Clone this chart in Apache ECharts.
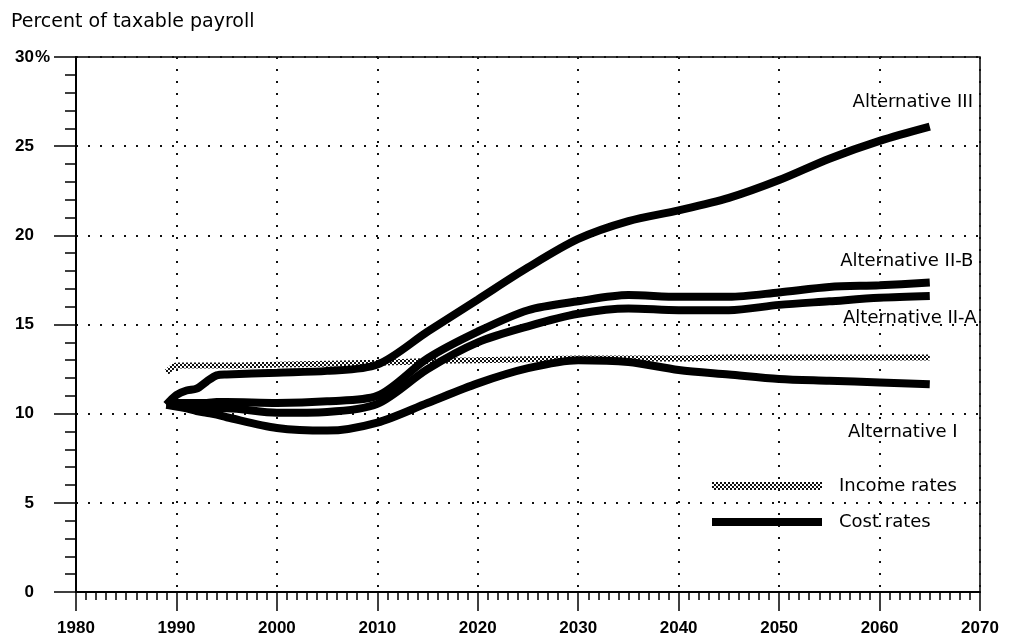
<!DOCTYPE html>
<html>
<head>
    <meta charset="utf-8">
    <title>Percent of taxable payroll</title>
    <script src="https://cdn.jsdelivr.net/npm/echarts@6/dist/echarts.min.js"></script>
    <style>
        html, body { margin: 0; padding: 0; background: #fff; }
        #chart1 { width: 1014px; height: 639px; }
    </style>
</head>
<body>
<div id="chart1"></div>
<script type="text/javascript">
    // years
    var years = [1989, 1990, 1991, 1992, 1993, 1994, 1995, 2000, 2005, 2010, 2015, 2020, 2025, 2030, 2035, 2040, 2045, 2050, 2055, 2060, 2065];
    var incomeRates = [12.3, 12.7, 12.7, 12.7, 12.7, 12.7, 12.7, 12.75, 12.8, 12.85, 12.95, 13.0, 13.05, 13.1, 13.1, 13.1, 13.15, 13.15, 13.15, 13.15, 13.15];
    var altI   = [10.5, 10.4, 10.3, 10.15, 10.05, 9.95, 9.8, 9.2, 9.05, 9.5, 10.6, 11.7, 12.55, 13.0, 12.9, 12.45, 12.2, 11.95, 11.85, 11.75, 11.65];
    var altIIA = [10.5, 10.5, 10.45, 10.4, 10.35, 10.3, 10.3, 10.05, 10.1, 10.55, 12.5, 14.0, 14.9, 15.6, 15.9, 15.8, 15.8, 16.1, 16.3, 16.5, 16.6];
    var altIIB = [10.5, 10.6, 10.6, 10.6, 10.6, 10.65, 10.65, 10.6, 10.7, 11.0, 13.1, 14.6, 15.8, 16.3, 16.65, 16.55, 16.55, 16.8, 17.1, 17.2, 17.35];
    var altIII = [10.5, 11.05, 11.3, 11.4, 11.8, 12.15, 12.2, 12.3, 12.4, 12.75, 14.6, 16.4, 18.2, 19.8, 20.8, 21.4, 22.1, 23.1, 24.3, 25.3, 26.1];
    var altNames = ['Alternative I', 'Alternative II-A', 'Alternative II-B', 'Alternative III'];
    var xTicks = {min: 1980, max: 2070, step: 10};
    var yTicks = {min: 0, max: 30, step: 5};

    function pairs(vals) {
        return years.map(function (y, i) { return [y, vals[i]]; });
    }

    // hatched look of the income line
    var pat = document.createElement('canvas');
    pat.width = 4; pat.height = 4;
    var pc = pat.getContext('2d');
    pc.fillStyle = '#fff'; pc.fillRect(0, 0, 4, 4);
    pc.fillStyle = '#111'; pc.fillRect(0, 0, 2, 2); pc.fillRect(2, 2, 2, 2);
    var hatch = {image: pat, repeat: 'repeat'};

    var font = 'DejaVu Sans';
    var tickFont = 'Liberation Sans';
    var dotted = {type: [2, 10], width: 2, color: '#111'};

    // label offsets from the line ends
    var labelOffsets = [[-27, 48], [-20, 22], [-23, -21], [-17, -24]];

    function costSeries(vals, k) {
        return {
            name: 'Cost rates',
            type: 'line',
            data: pairs(vals),
            smooth: 0.3,
            symbol: 'none',
            lineStyle: {color: '#000', width: 8},
            itemStyle: {color: '#000'},
            z: 3,
            endLabel: {
                show: true,
                formatter: altNames[k],
                distance: 0,
                align: 'center',
                verticalAlign: 'middle',
                offset: labelOffsets[k],
                fontFamily: font,
                fontSize: 18,
                color: '#000'
            }
        };
    }

    var myChart1 = echarts.init(document.getElementById('chart1'));
    myChart1.setOption({
        animation: false,
        backgroundColor: '#fff',
        title: {
            text: 'Percent of taxable payroll',
            left: 6,
            top: 8,
            textStyle: {fontFamily: font, fontSize: 19, fontWeight: 'normal', color: '#000'}
        },
        grid: {left: 76, right: 34, top: 57, bottom: 47, show: true, borderColor: '#000', borderWidth: 1.5},
        legend: {
            data: [
                {name: 'Income rates', icon: 'rect', itemStyle: {color: hatch}},
                {name: 'Cost rates', icon: 'rect', itemStyle: {color: '#000'}}
            ],
            orient: 'vertical',
            left: 707,
            top: 472,
            itemWidth: 110,
            itemHeight: 8,
            itemGap: 18,
            textStyle: {fontFamily: font, fontSize: 18, color: '#000', padding: [0, 0, 0, 12]}
        },
        xAxis: {
            type: 'value',
            min: xTicks.min,
            max: xTicks.max,
            interval: xTicks.step,
            axisLine: {lineStyle: {color: '#000', width: 2}},
            axisTick: {length: 19, lineStyle: {color: '#000', width: 1.5}},
            minorTick: {show: true, splitNumber: 10, length: 8, lineStyle: {color: '#000', width: 1.5}},
            axisLabel: {
                margin: 28, fontFamily: tickFont, fontSize: 17, fontWeight: 'bold', color: '#000',
                formatter: function (v) { return String(v); }
            },
            splitLine: {show: true, lineStyle: dotted}
        },
        yAxis: {
            type: 'value',
            min: yTicks.min,
            max: yTicks.max,
            interval: yTicks.step,
            axisLine: {show: true, lineStyle: {color: '#000', width: 2}},
            axisTick: {show: true, length: 22, lineStyle: {color: '#000', width: 1.5}},
            minorTick: {show: true, splitNumber: 5, length: 11, lineStyle: {color: '#000', width: 1.5}},
            axisLabel: {
                margin: 26, fontFamily: tickFont, fontSize: 17, fontWeight: 'bold', color: '#000',
                formatter: function (v) { return v === 30 ? '{n|30}{p|%}' : '{n|' + v + '}{p|}'; },
                rich: {
                    n: {fontFamily: tickFont, fontSize: 17, fontWeight: 'bold', color: '#000'},
                    p: {fontFamily: tickFont, fontSize: 17, fontWeight: 'bold', color: '#000', width: 16}
                }
            },
            splitLine: {show: true, lineStyle: dotted}
        },
        series: [
            {
                name: 'Income rates',
                type: 'line',
                data: pairs(incomeRates),
                smooth: 0.3,
                symbol: 'none',
                lineStyle: {color: hatch, width: 6},
                itemStyle: {color: hatch},
                z: 2
            },
            costSeries(altI, 0),
            costSeries(altIIA, 1),
            costSeries(altIIB, 2),
            costSeries(altIII, 3)
        ]
    });
</script>
</body>
</html>
